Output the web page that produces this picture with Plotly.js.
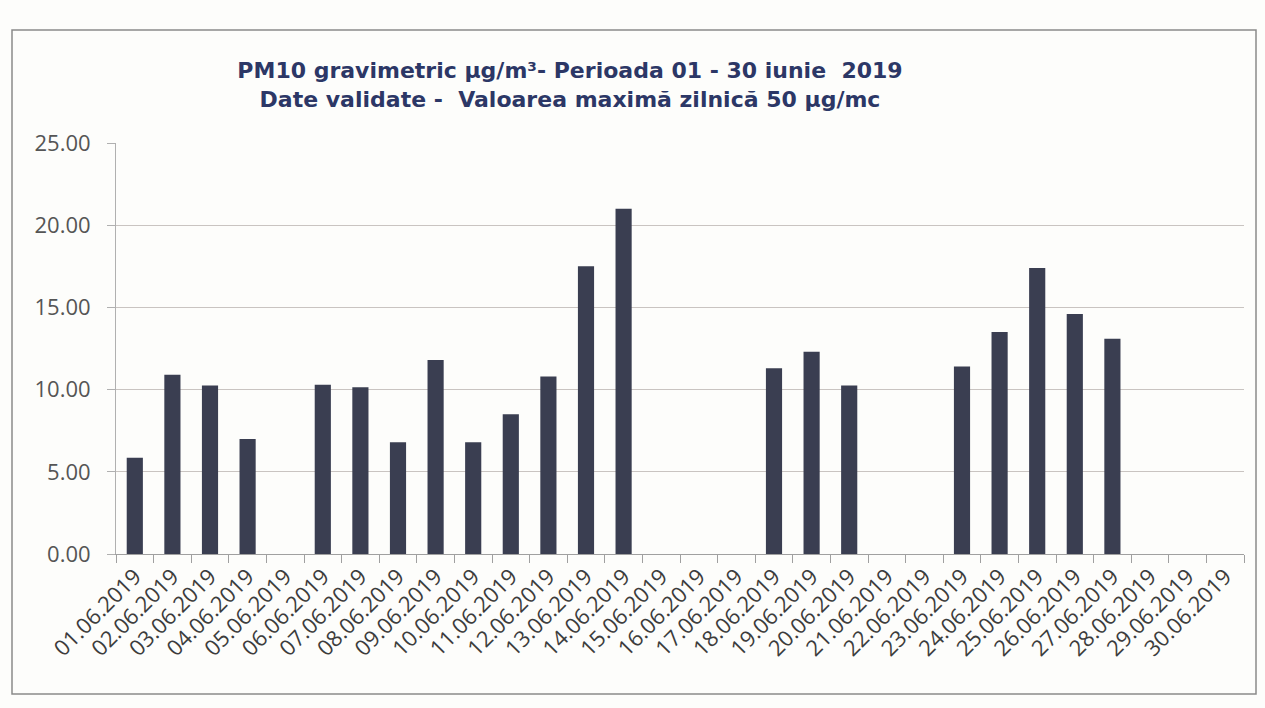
<!DOCTYPE html>
<html>
<head>
<meta charset="utf-8">
<script src="https://cdn.plot.ly/plotly-3.0.1.min.js"></script>
<style>html,body{margin:0;padding:0;background:#fdfdfb;}#chart{width:1265px;height:708px;}</style>
</head>
<body>
<div id="chart"></div>
<script>
const dates = ["01.06.2019","02.06.2019","03.06.2019","04.06.2019","05.06.2019","06.06.2019","07.06.2019","08.06.2019","09.06.2019","10.06.2019","11.06.2019","12.06.2019","13.06.2019","14.06.2019","15.06.2019","16.06.2019","17.06.2019","18.06.2019","19.06.2019","20.06.2019","21.06.2019","22.06.2019","23.06.2019","24.06.2019","25.06.2019","26.06.2019","27.06.2019","28.06.2019","29.06.2019","30.06.2019"];
const pm10 = [5.85,10.9,10.25,7.0,null,10.3,10.15,6.8,11.8,6.8,8.5,10.8,17.5,21.0,null,null,null,11.3,12.3,10.25,null,null,11.4,13.5,17.4,14.6,13.1,null,null,null];
const yTicks = [0,5,10,15,20,25];

const trace = {
  type: 'bar', x: dates, y: pm10,
  marker: {color: '#3a3e51'},
  hoverinfo: 'x+y'
};
const layout = {
  width: 1265, height: 708,
  paper_bgcolor: '#fdfdfb', plot_bgcolor: '#fdfdfb',
  margin: {l: 116, r: 21, t: 143, b: 154},
  bargap: 0.57,
  showlegend: false,
  title: {
    text: '<b>PM10 gravimetric µg/m³- Perioada 01 - 30 iunie  2019</b><br><b>Date validate -  Valoarea maximă zilnică 50 µg/mc</b>',
    x: 570/1265, xanchor: 'center', xref: 'container',
    y: 1 - 78/708, yanchor: 'middle', yref: 'container',
    font: {family: 'DejaVu Sans, sans-serif', size: 22, color: '#2c3766'}
  },
  xaxis: {
    type: 'category', tickangle: -45,
    tickfont: {family: 'Open Sans, sans-serif', size: 22, color: '#3c3c3c'},
    showline: true, linecolor: '#a0a0a0', linewidth: 1,
    ticks: 'outside', ticklen: 8, tickcolor: '#a0a0a0', tickson: 'boundaries',
    showgrid: false
  },
  yaxis: {
    range: [0, 25], tickvals: yTicks, tickformat: '.2f',
    tickfont: {family: 'Open Sans, sans-serif', size: 22, color: '#555'},
    showline: true, linecolor: '#b0b0b0', linewidth: 1,
    ticks: 'outside', ticklen: 8, tickcolor: '#b0b0b0', ticklabelstandoff: 12,
    gridcolor: '#c9c4c1', gridwidth: 1, zeroline: false
  },
  shapes: [{
    type: 'rect', xref: 'paper', yref: 'paper',
    x0: -104/1128, x1: 1 + 12/1128, y0: -140/411, y1: 1 + 113/411,
    line: {color: '#8a8a8a', width: 1.5}, fillcolor: 'rgba(0,0,0,0)'
  }]
};
Plotly.newPlot('chart', [trace], layout, {displayModeBar: false, staticPlot: true});
</script>
</body>
</html>
